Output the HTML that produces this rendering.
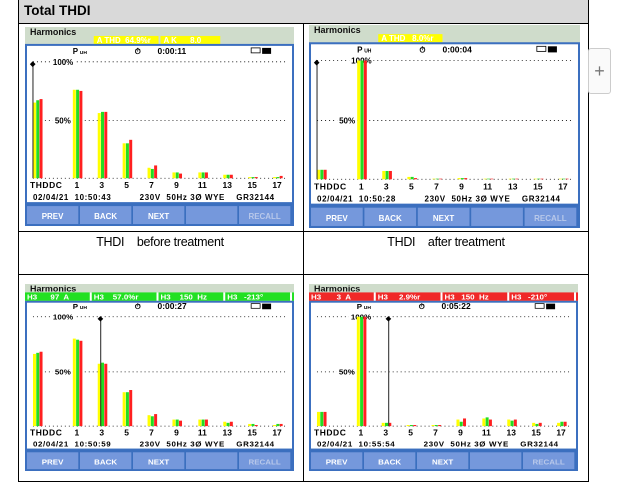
<!DOCTYPE html>
<html><head><meta charset="utf-8">
<style>
body{margin:0;width:640px;height:495px;background:#fff;position:relative;overflow:hidden;font-family:"Liberation Sans",sans-serif}
.l{position:absolute;background:#000}
.cap{position:absolute;font-size:12.5px;color:#000;width:284px;text-align:center;letter-spacing:-0.3px}
svg{position:absolute}
svg text{font-family:"Liberation Sans",sans-serif;font-weight:bold;white-space:pre}
</style></head><body>
<div style="position:absolute;left:18px;top:0;width:570px;height:23px;background:#d9d9d9"></div>
<div style="position:absolute;left:24px;top:3px;font-size:13.5px;font-weight:bold">Total THDI</div>
<div class="l" style="left:18px;top:0;width:1px;height:482px"></div>
<div class="l" style="left:588px;top:0;width:1px;height:482px"></div>
<div class="l" style="left:303px;top:23px;width:1px;height:459px"></div>
<div class="l" style="left:18px;top:23px;width:571px;height:1px"></div>
<div class="l" style="left:18px;top:231px;width:571px;height:1px"></div>
<div class="l" style="left:18px;top:274px;width:571px;height:1px"></div>
<div class="l" style="left:18px;top:481px;width:571px;height:1px"></div>
<div class="cap" style="left:18px;top:235px">THDI &nbsp;&nbsp; before treatment</div>
<div class="cap" style="left:304px;top:235px">THDI &nbsp;&nbsp; after treatment</div>
<div style="position:absolute;left:588px;top:48px;width:21px;height:44px;border:1px solid #ccc;border-radius:3px;background:#fafafa;color:#777;font-size:18px;line-height:44px;text-align:center">+</div>
<div id="c"></div>
<script>
var P=[
{x:25,y:27,w:269,h:199,st:'y',t:'0:00:11',d:'02/04/21  10:50:43',cur:8,
 v:[[65,67,68],[76,76,75],[56,57,57],[30,30,33],[9,8,11],[5,5,4],[5,5,5],[3,3,3],[1,1,1],[1,1,2]]},
{x:309,y:25,w:271,h:203,st:'y2',t:'0:00:04',d:'02/04/21  10:50:28',cur:8,
 v:[[8,8,8],[100,100,100],[7,7,7],[2,2,1],[0.5,0.5,0.5],[1,1,1],[0.5,0.5,0.5],[0.5,0.5,0.5],[0.5,0.5,0.5],[0.5,0.5,0.5]]},
{x:25,y:284,w:269,h:187,st:'g',t:'0:00:27',d:'02/04/21  10:50:59',cur:76,
 sb:['H3      97  A','H3    57.0%r','H3    150  Hz','H3   -213°'],
 v:[[66,67,68],[80,79,78],[57,58,57],[31,31,33],[10,9,11],[6,6,5],[6,6,6],[4,3,4],[2,2,1],[1,2,2]]},
{x:309,y:284,w:269,h:187,st:'r',t:'0:05:22',d:'02/04/21  10:55:54',cur:80,
 sb:['H3       3  A','H3     2.9%r','H3   150  Hz','H3   -210°'],
 v:[[13,13,13],[100,100,100],[3,3,3],[1,1,1],[1,1,1],[6,4,7],[7,8,6],[6,5,6],[3,2,3],[3,4,4]]}
];
var out='';
P.forEach(function(p){
 var s='<svg style="left:'+p.x+'px;top:'+p.y+'px" width="'+p.w+'" height="'+p.h+'" viewBox="0 0 270 200" preserveAspectRatio="none">';
 s+='<rect x="0" y="0" width="270" height="200" fill="#cfdccb"/>';
 s+='<text x="5" y="8" font-size="9" fill="#111">Harmonics</text>';
 if(p.st=='y'){s+='<rect x="69" y="9" width="65" height="8" fill="#ffff00"/><rect x="136" y="9" width="60" height="8" fill="#ffff00"/>';
  s+='<text x="72" y="16" font-size="8" fill="#fff">A THD  64.9%r</text><text x="139" y="16" font-size="8" fill="#fff">A K      8.0</text>';}
 if(p.st=='y2'){s+='<rect x="69" y="9" width="64" height="8" fill="#ffff00"/><text x="72" y="16" font-size="8" fill="#fff">A THD   8.0%r</text>';}
 if(p.st=='g'||p.st=='r'){var c=p.st=='g'?'#22e022':'#f02828';
  s+='<rect x="0" y="9" width="270" height="9" fill="'+c+'"/>';
  p.sb.forEach(function(t,i){s+='<rect x="'+(i*67+65)+'" y="9" width="2" height="9" fill="#fff"/><text x="'+(i*67+2)+'" y="16.5" font-size="8" fill="#fff">'+t+'</text>';});}
 var top=p.st=='g'||p.st=='r'?18:17;
 s+='<rect x="0" y="'+top+'" width="270" height="'+(180-top)+'" fill="#3b6fbf"/>';
 s+='<rect x="2" y="'+(top+2)+'" width="266" height="'+(176-top-2)+'" fill="#fff"/>';
 s+='<text x="48" y="27" font-size="8" fill="#000">P</text><text x="55" y="27" font-size="5" fill="#000">UH</text>';
 s+='<text x="110" y="27" font-size="8">⏱</text><text x="133" y="27" font-size="8.5">'+p.t+'</text>';
 s+='<rect x="227" y="21" width="9" height="5" fill="none" stroke="#000" stroke-width="0.8"/><rect x="238" y="21" width="9" height="6" fill="#000"/>';
 s+='<line x1="8" y1="35" x2="262" y2="35" stroke="#000" stroke-width="0.8" stroke-dasharray="1,3"/>';
 s+='<line x1="8" y1="94" x2="262" y2="94" stroke="#000" stroke-width="0.8" stroke-dasharray="1,3"/>';
 s+='<line x1="8" y1="152" x2="262" y2="152" stroke="#000" stroke-width="0.8" stroke-dasharray="1,3"/>';
 s+='<rect x="'+(p.x>300?40:26)+'" y="30" width="24" height="9" fill="#fff"/><text x="'+(p.x>300?42:28)+'" y="38" font-size="8">100%</text>';
 s+='<rect x="28" y="89" width="20" height="9" fill="#fff"/><text x="30" y="97" font-size="8">50%</text>';
 var xs=[8,48,73,98,123,148,174,199,224,249];
 p.v.forEach(function(g,i){var cols=['#ffff00','#22dd22','#ff2020'];
  g.forEach(function(v,j){var hh=v*1.17;s+='<rect x="'+(xs[i]+j*3.3)+'" y="'+(152-hh)+'" width="3" height="'+hh+'" fill="'+cols[j]+'"/>';});});
 var cx=p.cur;
 s+='<line x1="'+cx+'" y1="36" x2="'+cx+'" y2="152" stroke="#222" stroke-width="1"/><text x="'+(cx-3)+'" y="39" font-size="7">◆</text>';
 s+='<text x="5" y="162" font-size="8.5" textLength="32">THDDC</text>';
 ['1','3','5','7','9','11','13','15','17'].forEach(function(t,i){s+='<text x="'+(xs[i+1]+4)+'" y="162" font-size="8.5" text-anchor="middle">'+t+'</text>';});
 s+='<text x="8" y="174" font-size="8" textLength="242">'+p.d+'          230V  50Hz 3Ø WYE    GR32144</text>';
 s+='<rect x="0" y="178" width="270" height="22" fill="#3b6fbf"/>';
 var bl=['PREV','BACK','NEXT','','RECALL'];
 for(var i=0;i<5;i++){s+='<rect x="'+(2+i*53.2)+'" y="180" width="51.5" height="18" fill="#7598dc"/>';
  s+='<text x="'+(27.7+i*53.2)+'" y="193" font-size="8" text-anchor="middle" fill="'+(i==4?'#b8c8ea':'#fff')+'">'+bl[i]+'</text>';}
 s+='</svg>';out+=s;});
document.getElementById('c').innerHTML=out;
</script>
</body></html>
